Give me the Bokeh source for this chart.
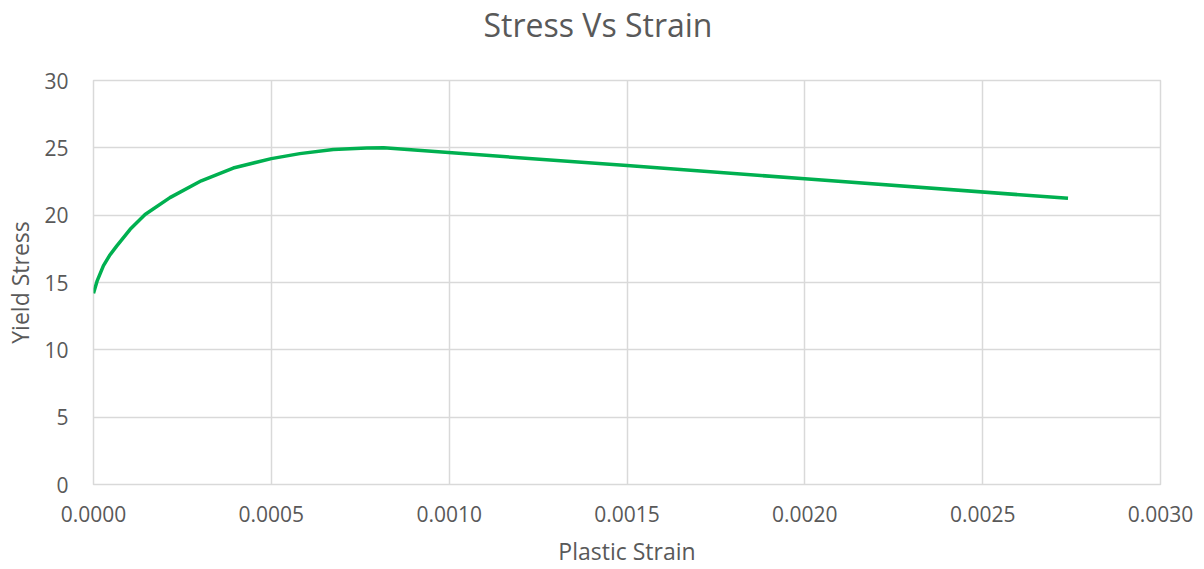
from bokeh.plotting import figure
from bokeh.models import Range1d, FixedTicker, PrintfTickFormatter, Title
from bokeh.embed import file_html
from bokeh.resources import INLINE

# Data
plastic_strain = [0.0, 0.00001, 0.000028, 0.000045, 0.000065, 0.000103, 0.000145, 0.000215,
                  0.000303, 0.000393, 0.0005, 0.00058, 0.000674, 0.000768, 0.000816,
                  0.0015, 0.0020, 0.00274]
yield_stress = [14.2, 15.1, 16.25, 17.0, 17.7, 18.95, 20.05, 21.3,
                22.55, 23.5, 24.2, 24.57, 24.87, 24.99, 25.0,
                23.68, 22.7, 21.25]

x_ticks = [0.0, 0.0005, 0.0010, 0.0015, 0.0020, 0.0025, 0.0030]
y_ticks = [0, 5, 10, 15, 20, 25, 30]
chart_title = "Stress Vs Strain"

FONT = "Open Sans"
TXT = "#595959"
GRID = "#d9d9d9"

W, H = 1204, 569
BL, BR, BT, BB = 93, 44, 79, 85

p = figure(width=W, height=H, output_backend="svg", toolbar_location=None,
           x_range=Range1d(0, 0.003), y_range=Range1d(0, 30),
           min_border_left=BL, min_border_right=BR, min_border_top=BT, min_border_bottom=BB)

# spacer (closest to the frame), then the visible title above it
p.add_layout(Title(text=" ", text_font=FONT, text_font_size="24px", standoff=0,
                   text_color="white"), "above")
p.add_layout(Title(text=chart_title, align="left", offset=390, vertical_align="bottom",
                   standoff=0, text_font=FONT, text_font_size="32px", text_color=TXT,
                   text_font_style="normal"), "above")

p.line(plastic_strain, yield_stress, line_color="#00b050", line_width=3.5)

p.outline_line_color = GRID
p.outline_line_width = 1.5

for ax in (p.xaxis[0], p.yaxis[0]):
    ax.axis_line_color = None
    ax.major_tick_line_color = None
    ax.minor_tick_line_color = None
    ax.major_label_text_font = FONT
    ax.major_label_text_font_size = "21px"
    ax.major_label_text_color = TXT
    ax.axis_label_text_font = FONT
    ax.axis_label_text_font_size = "23px"
    ax.axis_label_text_color = TXT
    ax.axis_label_text_font_style = "normal"

p.xaxis.ticker = FixedTicker(ticks=x_ticks)
p.yaxis.ticker = FixedTicker(ticks=y_ticks)
p.xaxis.formatter = PrintfTickFormatter(format="%.4f")
p.xaxis.axis_label = "Plastic Strain"
p.yaxis.axis_label = "Yield Stress"
p.xaxis.major_label_standoff = 15
p.yaxis.major_label_standoff = 19
p.xaxis.axis_label_standoff = 10
p.yaxis.axis_label_standoff = 5

p.xgrid.grid_line_color = GRID
p.ygrid.grid_line_color = GRID
p.xgrid.grid_line_width = 1.5
p.ygrid.grid_line_width = 1.5
p.background_fill_color = "white"
p.border_fill_color = "white"

open("out.html", "w").write(file_html(p, INLINE))
